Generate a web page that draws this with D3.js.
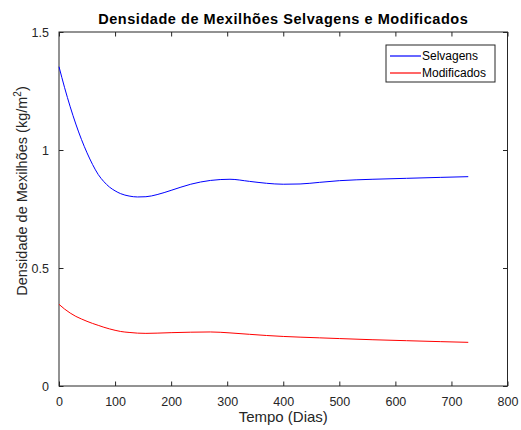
<!DOCTYPE html>
<html><head><meta charset="utf-8">
<script src="https://cdn.jsdelivr.net/npm/d3@7"></script>
<style>
body{margin:0;background:#fff;}
text{font-family:Arial,"Liberation Sans",Helvetica,sans-serif;}
</style></head>
<body><svg id="c" width="521" height="430"></svg>
<script>
const days = [0,10,20,30,40,50,60,70,80,90,100,110,125,140,155,175,200,235,270,305,340,370,400,430,465,500,560,620,680,730];
const selvagens = [1.353,1.264,1.183,1.110,1.045,0.988,0.938,0.896,0.866,0.843,0.827,0.815,0.805,0.801,0.802,0.811,0.829,0.855,0.871,0.876,0.867,0.859,0.855,0.856,0.863,0.870,0.876,0.880,0.884,0.887];
const modificados = [0.346,0.326,0.309,0.295,0.284,0.274,0.265,0.257,0.249,0.242,0.236,0.231,0.227,0.224,0.223,0.224,0.226,0.228,0.229,0.225,0.219,0.214,0.210,0.207,0.204,0.201,0.196,0.192,0.188,0.185];
const xTicks = [0,100,200,300,400,500,600,700,800];
const yTicks = [0,0.5,1,1.5];
const seriesNames = ["Selvagens","Modificados"];
const colors = ["#0000ff","#ff0000"];

const svg = d3.select("#c");
const L=59, R=507.5, T=32, B=386;
const x = d3.scaleLinear().domain([0,800]).range([L,R]);
const y = d3.scaleLinear().domain([0,1.5]).range([B,T]);
const ax = "#262626";

svg.append("rect").attr("x",L).attr("y",T).attr("width",R-L).attr("height",B-T)
  .attr("fill","none").attr("stroke",ax).attr("stroke-width",1);

const tl=4.5;
const gx = svg.append("g").attr("transform",`translate(0,${B})`)
  .call(d3.axisBottom(x).tickValues(xTicks).tickSizeInner(-tl).tickSizeOuter(0).tickPadding(11).tickFormat(d3.format("d")));
const gxt = svg.append("g").attr("transform",`translate(0,${T})`)
  .call(d3.axisTop(x).tickValues(xTicks).tickSizeInner(-tl).tickSizeOuter(0).tickFormat(""));
const gy = svg.append("g").attr("transform",`translate(${L},0)`)
  .call(d3.axisLeft(y).tickValues(yTicks).tickSizeInner(-tl).tickSizeOuter(0).tickPadding(10).tickFormat(d=>String(d)));
const gyr = svg.append("g").attr("transform",`translate(${R},0)`)
  .call(d3.axisRight(y).tickValues(yTicks).tickSizeInner(-tl).tickSizeOuter(0).tickFormat(""));
[gx,gxt,gy,gyr].forEach(g=>{
  g.select(".domain").remove();
  g.selectAll("line").attr("stroke",ax);
  g.selectAll("text").attr("fill",ax).style("font-size","12.5px").style("font-family","Arial,'Liberation Sans',sans-serif");
});

const line = d3.line().x((d,i)=>x(days[i])).y(d=>y(d)).curve(d3.curveMonotoneX);
[selvagens,modificados].forEach((s,k)=>{
  svg.append("path").datum(s).attr("d",line).attr("fill","none")
    .attr("stroke",colors[k]).attr("stroke-width",1);
});

svg.append("text").attr("x",(L+R)/2).attr("y",24).attr("text-anchor","middle")
  .attr("font-weight","bold").attr("font-size",14.5).attr("letter-spacing",0.55).attr("fill","#000")
  .text("Densidade de Mexilhões Selvagens e Modificados");
svg.append("text").attr("x",(L+R)/2).attr("y",422).attr("text-anchor","middle")
  .attr("font-size",15).attr("fill",ax).text("Tempo (Dias)");
const yl = svg.append("text").attr("transform",`translate(27,${191}) rotate(-90)`)
  .attr("text-anchor","middle").attr("font-size",14.5).attr("fill",ax);
yl.append("tspan").text("Densidade de Mexilhões (kg/m");
yl.append("tspan").attr("dy",-6).attr("font-size",10).text("2");
yl.append("tspan").attr("dy",6).text(")");

const lg = svg.append("g");
lg.append("rect").attr("x",386).attr("y",45).attr("width",109).attr("height",37)
  .attr("fill","#fff").attr("stroke",ax).attr("stroke-width",1);
seriesNames.forEach((n,i)=>{
  const yy = 56 + i*17;
  lg.append("line").attr("x1",390).attr("x2",421).attr("y1",yy).attr("y2",yy)
    .attr("stroke",colors[i]).attr("stroke-width",1.2);
  lg.append("text").attr("x",422).attr("y",yy+4).attr("font-size",12).attr("fill","#000").text(n);
});
</script></body></html>
